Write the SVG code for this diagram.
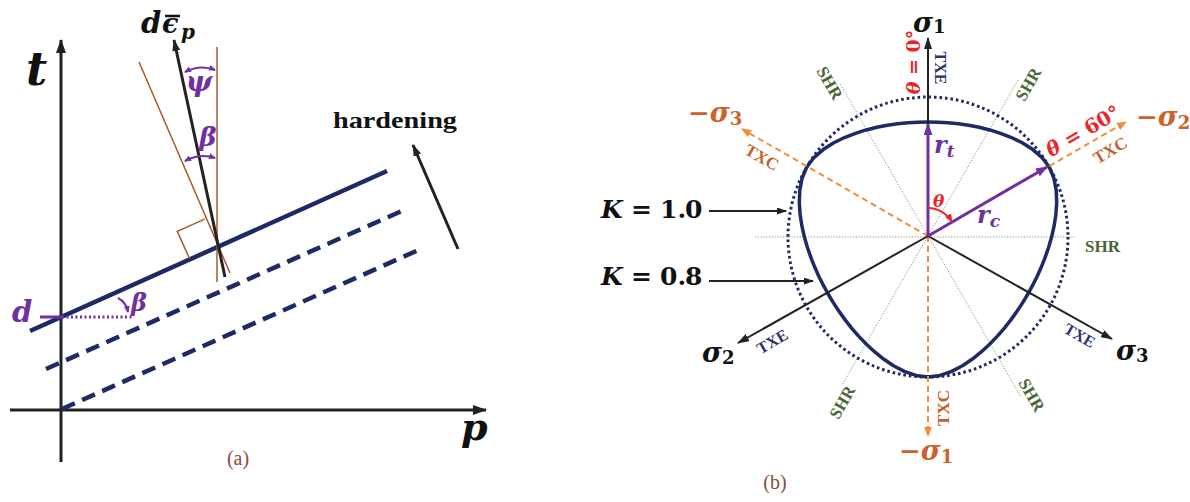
<svg xmlns="http://www.w3.org/2000/svg" width="1190" height="502" viewBox="0 0 1190 502">
<defs>
<style>
.math{font-family:"DejaVu Serif",serif;font-weight:bold;font-style:italic}
.up{font-family:"DejaVu Serif",serif;font-weight:bold;font-style:normal}
.tm{font-family:"Liberation Serif",serif;font-weight:bold}
.cap{font-family:"Liberation Serif",serif;fill:#8B4A3F;font-size:20px}
.axis{stroke:#222;stroke-width:3;fill:none}
.navy{stroke:#1E2A66;stroke-width:4.5;fill:none}
.dash{stroke-dasharray:14 8}
.brown{stroke:#A95A2B;stroke-width:1.5;fill:none}
.pur{stroke:#7030A0;fill:none}
.blk{stroke:#222;stroke-width:2;fill:none}
.org{stroke:#F28C3A;stroke-width:2;stroke-dasharray:6 4;fill:none}
.shr{stroke:#7E9A6E;stroke-width:1;stroke-dasharray:1.2 1.6;fill:none}
.shrt{fill:#4A6635;font-size:17px}
.txe{fill:#2E2F6F;font-size:16px}
.txc{fill:#C5602A;font-size:17px}
.ol{fill:#CD6128}
.red{fill:#E8262A}
.curve{stroke:#1E2A66;stroke-width:3.5;fill:none;stroke-linecap:round;stroke-linejoin:round}
</style>
<marker id="mAx" markerUnits="userSpaceOnUse" markerWidth="14" markerHeight="10" refX="13" refY="5" orient="auto"><path d="M0,0 L14,5 L0,10 z" fill="#222"/></marker>
<marker id="mBk" markerUnits="userSpaceOnUse" markerWidth="12" markerHeight="8" refX="11" refY="4" orient="auto"><path d="M0,0 L12,4 L0,8 z" fill="#222"/></marker>
<marker id="mBs" markerUnits="userSpaceOnUse" markerWidth="10" markerHeight="7" refX="9" refY="3.5" orient="auto"><path d="M0,0 L10,3.5 L0,7 z" fill="#222"/></marker>
<marker id="mOr" markerUnits="userSpaceOnUse" markerWidth="10" markerHeight="8" refX="9" refY="4" orient="auto"><path d="M0,0 L10,4 L0,8 z" fill="#F28C3A"/></marker>
<marker id="mPu" markerUnits="userSpaceOnUse" markerWidth="12" markerHeight="9" refX="11" refY="4.5" orient="auto"><path d="M0,0 L12,4.5 L0,9 z" fill="#7030A0"/></marker>
<marker id="mPs" markerUnits="userSpaceOnUse" markerWidth="7" markerHeight="6" refX="6" refY="3" orient="auto-start-reverse"><path d="M0,0 L7,3 L0,6 z" fill="#7030A0"/></marker>
<marker id="mRd" markerUnits="userSpaceOnUse" markerWidth="9" markerHeight="7" refX="8" refY="3.5" orient="auto"><path d="M0,0 L9,3.5 L0,7 z" fill="#E8262A"/></marker>
<path id="seg" d="M0,-115 L10.04,-114.8 L20.14,-114.21 L30.33,-113.18 L40.65,-111.69 L51.15,-109.68 L61.81,-107.05 L72.61,-103.7 L83.47,-99.48 L94.21,-94.21 L104.51,-87.7 L113.81,-79.69 L121.24,-70"/>
</defs>
<rect width="1190" height="502" fill="#fff"/>

<!-- ===== Panel (a) ===== -->
<g id="panel-a">
  <g id="a-axes">
    <line class="axis" x1="61" y1="462" x2="61" y2="40" marker-end="url(#mAx)"/>
    <line class="axis" x1="10" y1="410" x2="486" y2="410" marker-end="url(#mAx)"/>
    <text class="math" x="26" y="85" font-size="46" fill="#111">t</text>
    <text class="math" x="461" y="440" font-size="38" fill="#111">p</text>
  </g>
  <g id="a-surfaces">
    <line class="navy" x1="30" y1="331" x2="387" y2="171"/>
    <line class="navy dash" x1="46" y1="369" x2="404" y2="210"/>
    <line class="navy dash" x1="62" y1="409" x2="423" y2="248"/>
  </g>
  <g id="a-flow">
    <line class="brown" x1="217" y1="47" x2="217" y2="282"/>
    <line class="brown" x1="139" y1="62" x2="230" y2="273"/>
    <polyline class="brown" points="189.6,258.8 177.3,231.4 204.7,219.1"/>
    <line class="axis" x1="225" y1="277" x2="174" y2="40" marker-end="url(#mBk)"/>
    <path class="pur" stroke-width="2" d="M185,72 Q200,64 215,70" marker-start="url(#mPs)" marker-end="url(#mPs)"/>
    <path class="pur" stroke-width="2" d="M185,161 Q200,153 215,158" marker-start="url(#mPs)" marker-end="url(#mPs)"/>
    <text class="math" x="199" y="91" font-size="28" fill="#7030A0" text-anchor="middle">ψ</text>
    <text class="math" x="208" y="146" font-size="26" fill="#7030A0" text-anchor="middle">β</text>
    <text class="math" x="141" y="33" font-size="29" fill="#111">d</text>
    <text class="math" x="162" y="33" font-size="27" fill="#111">ϵ</text>
    <line x1="165" y1="16" x2="180" y2="16" stroke="#111" stroke-width="2.5"/>
    <text class="math" x="181" y="39" font-size="20" fill="#111">p</text>
  </g>
  <g id="a-d">
    <text class="math" x="12" y="322" font-size="29" fill="#7030A0">d</text>
    <line class="pur" stroke-width="3" x1="40" y1="317" x2="62" y2="317"/>
    <line class="pur" stroke-width="3" stroke-dasharray="2 2.5" x1="62" y1="317" x2="133" y2="317"/>
    <path class="pur" stroke-width="2" d="M118,298 Q126,302 128,312" marker-end="url(#mPs)"/>
    <text class="math" x="131" y="311" font-size="24" fill="#7030A0">β</text>
  </g>
  <g id="a-hardening">
    <line class="axis" x1="458" y1="249" x2="413" y2="145" marker-end="url(#mBk)"/>
    <text class="tm" x="333" y="128" font-size="24" fill="#111" textLength="124" lengthAdjust="spacingAndGlyphs">hardening</text>
  </g>
  <text class="cap" x="238" y="465" text-anchor="middle">(a)</text>
</g>

<!-- ===== Panel (b) ===== -->
<g id="panel-b">
  <g id="shr-lines">
    <line class="shr" x1="755" y1="237" x2="1075" y2="237"/>
    <line class="shr" x1="840.5" y1="84.4" x2="1020.5" y2="396.2"/>
    <line class="shr" x1="1018" y1="80.1" x2="842" y2="385"/>
  </g>
  <g id="shr-labels" class="tm shrt">
    <text x="1085" y="252">SHR</text>
    <text transform="translate(830,83) rotate(60)" x="0" y="6" text-anchor="middle">SHR</text>
    <text transform="translate(1028,84) rotate(-60)" x="0" y="6" text-anchor="middle">SHR</text>
    <text transform="translate(842,402) rotate(-60)" x="0" y="6" text-anchor="middle">SHR</text>
    <text transform="translate(1032,395) rotate(60)" x="0" y="6" text-anchor="middle">SHR</text>
  </g>
  <circle id="k10" cx="928" cy="237" r="140" fill="none" stroke="#1E2A66" stroke-width="3" stroke-dasharray="2.6 2.9"/>
  <g id="k08" class="curve" transform="translate(928,237)">
    <use href="#seg"/>
    <use href="#seg" transform="rotate(120)"/>
    <use href="#seg" transform="rotate(240)"/>
    <use href="#seg" transform="scale(-1,1)"/>
    <use href="#seg" transform="rotate(120) scale(-1,1)"/>
    <use href="#seg" transform="rotate(240) scale(-1,1)"/>
  </g>
  <g id="connectors">
    <line class="org" x1="928" y1="236" x2="742" y2="129" marker-end="url(#mOr)"/>
    <line class="org" x1="928" y1="236" x2="1126" y2="122" marker-end="url(#mOr)"/>
    <line class="org" x1="928" y1="236" x2="928" y2="436" marker-end="url(#mOr)"/>
    <line class="blk" x1="928" y1="236" x2="928" y2="38" marker-end="url(#mBk)"/>
    <line class="blk" x1="928" y1="236" x2="738" y2="343" marker-end="url(#mBk)"/>
    <line class="blk" x1="928" y1="236" x2="1112" y2="339" marker-end="url(#mBk)"/>
    <line class="pur" stroke-width="3" x1="928" y1="236" x2="928" y2="124" marker-end="url(#mPu)"/>
    <line class="pur" stroke-width="3" x1="928" y1="236" x2="1047" y2="167" marker-end="url(#mPu)"/>
    <path d="M928,208 A28,28 0 0 1 952,222" fill="none" stroke="#E8262A" stroke-width="2" marker-end="url(#mRd)"/>
    <line class="blk" stroke-width="1.5" x1="709" y1="211" x2="786" y2="211" marker-end="url(#mBs)"/>
    <line class="blk" stroke-width="1.5" x1="709" y1="281" x2="813" y2="281" marker-end="url(#mBs)"/>
  </g>
  <g id="axis-labels">
    <text x="913" y="32" fill="#111"><tspan class="math" font-size="27">σ</tspan><tspan class="up" font-size="18" dy="1">1</tspan></text>
    <text x="702" y="362" fill="#111"><tspan class="math" font-size="27">σ</tspan><tspan class="up" font-size="18" dy="2">2</tspan></text>
    <text x="1116" y="360" fill="#111"><tspan class="math" font-size="27">σ</tspan><tspan class="up" font-size="18" dy="2">3</tspan></text>
    <text x="688" y="122" class="ol"><tspan class="up" font-size="26">−</tspan><tspan class="math" font-size="27">σ</tspan><tspan class="up" font-size="18" dy="3">3</tspan></text>
    <text x="1136" y="126" class="ol"><tspan class="up" font-size="26">−</tspan><tspan class="math" font-size="27">σ</tspan><tspan class="up" font-size="18" dy="3">2</tspan></text>
    <text x="899" y="460" class="ol"><tspan class="up" font-size="26">−</tspan><tspan class="math" font-size="27">σ</tspan><tspan class="up" font-size="18" dy="3">1</tspan></text>
  </g>
  <g id="mode-labels" class="tm">
    <text class="txe" transform="translate(941,68) rotate(90)" x="0" y="6" text-anchor="middle">TXE</text>
    <text class="txe" transform="translate(772,341) rotate(-30)" x="0" y="6" text-anchor="middle">TXE</text>
    <text class="txe" transform="translate(1080,335) rotate(30)" x="0" y="6" text-anchor="middle">TXE</text>
    <text class="txc" transform="translate(762,157) rotate(30)" x="0" y="6" text-anchor="middle">TXC</text>
    <text class="txc" transform="translate(1110,150) rotate(-30)" x="0" y="6" text-anchor="middle">TXC</text>
    <text class="txc" transform="translate(943,408) rotate(-90)" x="0" y="6" text-anchor="middle">TXC</text>
  </g>
  <g id="theta-labels" class="red">
    <text transform="translate(913,62) rotate(-90)" x="0" y="7" text-anchor="middle" font-size="19"><tspan class="math">θ</tspan><tspan class="up"> = 0°</tspan></text>
    <text transform="translate(1083,131) rotate(-30)" x="0" y="7" text-anchor="middle" font-size="20"><tspan class="math">θ</tspan><tspan class="up"> = 60°</tspan></text>
    <text class="math" x="933" y="207" font-size="17">θ</text>
  </g>
  <g id="radius-labels" fill="#7030A0">
    <text x="934" y="153"><tspan class="math" font-size="24">r</tspan><tspan class="math" font-size="17" dy="4">t</tspan></text>
    <text x="977" y="223"><tspan class="math" font-size="24">r</tspan><tspan class="math" font-size="17" dy="4">c</tspan></text>
  </g>
  <g id="k-labels" fill="#111">
    <text y="218" font-size="25"><tspan class="math" x="601">K</tspan><tspan class="up" x="631">=</tspan><tspan class="up" x="660">1.</tspan><tspan class="up" x="685">0</tspan></text>
    <text y="285" font-size="25"><tspan class="math" x="601">K</tspan><tspan class="up" x="631">=</tspan><tspan class="up" x="660">0.</tspan><tspan class="up" x="685">8</tspan></text>
  </g>
  <text class="cap" x="775" y="489" text-anchor="middle">(b)</text>
</g>
</svg>
